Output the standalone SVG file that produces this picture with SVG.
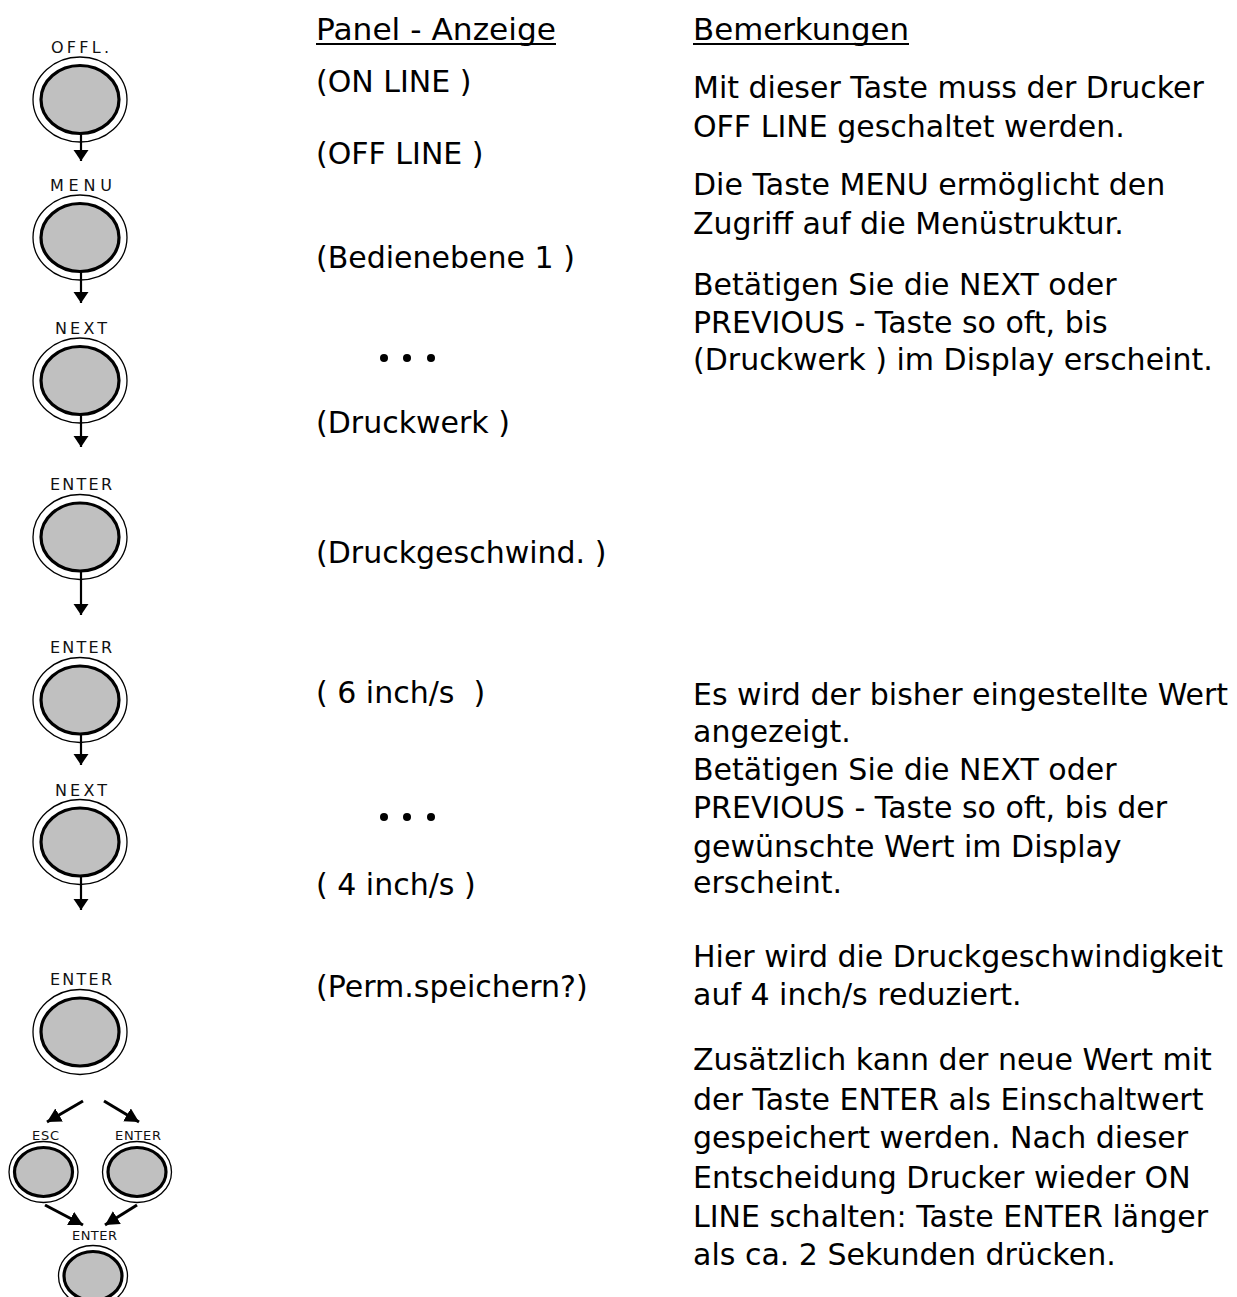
<svg xmlns="http://www.w3.org/2000/svg" width="1237" height="1297" viewBox="0 0 1237 1297">
<defs>
<style>
.t{font-family:"DejaVu Sans","Liberation Sans",sans-serif;font-size:30px;fill:#000}
.lb{font-family:"DejaVu Sans","Liberation Sans",sans-serif;font-size:16px;fill:#111;text-anchor:middle}
.ls{font-family:"DejaVu Sans","Liberation Sans",sans-serif;font-size:13px;fill:#111;text-anchor:middle}
.o{fill:#fff;stroke:#000;stroke-width:1.3}
.i{fill:#c0c0c0;stroke:#000;stroke-width:3.2}
.a{stroke:#000;stroke-width:2.2;fill:none;marker-end:url(#ah)}
.d{stroke:#000;stroke-width:3;fill:none;marker-end:url(#ad)}
.u{stroke:#000;stroke-width:2}
</style>
<marker id="ah" markerUnits="userSpaceOnUse" markerWidth="12" markerHeight="16" refX="11" refY="7.5" orient="auto">
<path d="M0,0 L11,7.5 L0,15 Z" fill="#000"/>
</marker>
<marker id="ad" markerUnits="userSpaceOnUse" markerWidth="16" markerHeight="16" refX="14" refY="7.5" orient="auto">
<path d="M0,0 L14,7.5 L0,15 Z" fill="#000"/>
</marker>
</defs>
<rect width="1237" height="1297" fill="#fff"/>

<g id="btn-offl"><ellipse class="o" cx="80" cy="99.5" rx="47" ry="42.5"/><ellipse class="i" cx="80" cy="99.5" rx="39" ry="34"/><text class="lb" x="80" y="52.5" textLength="58" lengthAdjust="spacing">OFFL.</text></g>
<g id="btn-menu"><ellipse class="o" cx="80" cy="237.5" rx="47" ry="42.5"/><ellipse class="i" cx="80" cy="237.5" rx="39" ry="34"/><text class="lb" x="81" y="190.5" textLength="62" lengthAdjust="spacing">MENU</text></g>
<g id="btn-next1"><ellipse class="o" cx="80" cy="380.5" rx="47" ry="42.5"/><ellipse class="i" cx="80" cy="380.5" rx="39" ry="34"/><text class="lb" x="81" y="333.5" textLength="52" lengthAdjust="spacing">NEXT</text></g>
<g id="btn-enter1"><ellipse class="o" cx="80" cy="537" rx="47" ry="42.5"/><ellipse class="i" cx="80" cy="537" rx="39" ry="34"/><text class="lb" x="81" y="490" textLength="62" lengthAdjust="spacing">ENTER</text></g>
<g id="btn-enter2"><ellipse class="o" cx="80" cy="700" rx="47" ry="42.5"/><ellipse class="i" cx="80" cy="700" rx="39" ry="34"/><text class="lb" x="81" y="653" textLength="62" lengthAdjust="spacing">ENTER</text></g>
<g id="btn-next2"><ellipse class="o" cx="80" cy="842" rx="47" ry="42.5"/><ellipse class="i" cx="80" cy="842" rx="39" ry="34"/><text class="lb" x="81" y="796" textLength="52" lengthAdjust="spacing">NEXT</text></g>
<g id="btn-enter3"><ellipse class="o" cx="80" cy="1032" rx="47" ry="42.5"/><ellipse class="i" cx="80" cy="1032" rx="39" ry="34"/><text class="lb" x="81" y="985" textLength="62" lengthAdjust="spacing">ENTER</text></g>
<g id="btn-esc"><ellipse class="o" cx="43.5" cy="1172" rx="34.5" ry="30.5"/><ellipse class="i" cx="43.5" cy="1172" rx="29" ry="24.5"/><text class="ls" x="45.5" y="1140" textLength="27" lengthAdjust="spacing">ESC</text></g>
<g id="btn-enter4"><ellipse class="o" cx="137" cy="1172" rx="34.5" ry="30.5"/><ellipse class="i" cx="137" cy="1172" rx="29" ry="24.5"/><text class="ls" x="138" y="1140" textLength="46" lengthAdjust="spacing">ENTER</text></g>
<g id="btn-enter5"><ellipse class="o" cx="93" cy="1276" rx="34.5" ry="30.5"/><ellipse class="i" cx="93" cy="1276" rx="29" ry="24.5"/><text class="ls" x="94.5" y="1240" textLength="45" lengthAdjust="spacing">ENTER</text></g>

<g id="connectors">
<line class="a" x1="81" y1="133" x2="81" y2="161"/>
<line class="a" x1="81" y1="271" x2="81" y2="303"/>
<line class="a" x1="81" y1="414" x2="81" y2="447"/>
<line class="a" x1="81" y1="571" x2="81" y2="615"/>
<line class="a" x1="81" y1="733" x2="81" y2="765"/>
<line class="a" x1="81" y1="876" x2="81" y2="910"/>
<line class="d" x1="83" y1="1101" x2="47" y2="1122"/>
<line class="d" x1="104" y1="1101" x2="139" y2="1122"/>
<line class="d" x1="45" y1="1205" x2="83" y2="1225"/>
<line class="d" x1="137" y1="1205" x2="105" y2="1225"/>
</g>

<g id="panel">
<text class="t" x="316" y="40" textLength="240" lengthAdjust="spacingAndGlyphs">Panel - Anzeige</text>
<line class="u" x1="316" y1="44" x2="556" y2="44"/>
<text class="t" x="316" y="92">(ON LINE )</text>
<text class="t" x="316" y="164">(OFF LINE )</text>
<text class="t" x="316" y="268">(Bedienebene 1 )</text>
<circle cx="384" cy="358" r="4"/><circle cx="407" cy="358" r="4"/><circle cx="431" cy="358" r="4"/>
<text class="t" x="316" y="433">(Druckwerk )</text>
<text class="t" x="316" y="563">(Druckgeschwind. )</text>
<text class="t" x="316" y="703" xml:space="preserve">( 6 inch/s  )</text>
<circle cx="384" cy="817" r="4"/><circle cx="407" cy="817" r="4"/><circle cx="431" cy="817" r="4"/>
<text class="t" x="316" y="895">( 4 inch/s )</text>
<text class="t" x="316" y="997">(Perm.speichern?)</text>
</g>

<g id="remarks">
<text class="t" x="693" y="40" textLength="216" lengthAdjust="spacingAndGlyphs">Bemerkungen</text>
<line class="u" x1="693" y1="44" x2="909" y2="44"/>
<text class="t" x="693" y="98">Mit dieser Taste muss der Drucker</text>
<text class="t" x="693" y="137">OFF LINE geschaltet werden.</text>
<text class="t" x="693" y="195">Die Taste MENU ermöglicht den</text>
<text class="t" x="693" y="234">Zugriff auf die Menüstruktur.</text>
<text class="t" x="693" y="295">Betätigen Sie die NEXT oder</text>
<text class="t" x="693" y="333">PREVIOUS - Taste so oft, bis</text>
<text class="t" x="693" y="370">(Druckwerk ) im Display erscheint.</text>
<text class="t" x="693" y="705">Es wird der bisher eingestellte Wert</text>
<text class="t" x="693" y="742">angezeigt.</text>
<text class="t" x="693" y="780">Betätigen Sie die NEXT oder</text>
<text class="t" x="693" y="818">PREVIOUS - Taste so oft, bis der</text>
<text class="t" x="693" y="857">gewünschte Wert im Display</text>
<text class="t" x="693" y="893">erscheint.</text>
<text class="t" x="693" y="967">Hier wird die Druckgeschwindigkeit</text>
<text class="t" x="693" y="1005">auf 4 inch/s reduziert.</text>
<text class="t" x="693" y="1070">Zusätzlich kann der neue Wert mit</text>
<text class="t" x="693" y="1110">der Taste ENTER als Einschaltwert</text>
<text class="t" x="693" y="1148">gespeichert werden. Nach dieser</text>
<text class="t" x="693" y="1188">Entscheidung Drucker wieder ON</text>
<text class="t" x="693" y="1227">LINE schalten: Taste ENTER länger</text>
<text class="t" x="693" y="1265">als ca. 2 Sekunden drücken.</text>
</g>
</svg>
